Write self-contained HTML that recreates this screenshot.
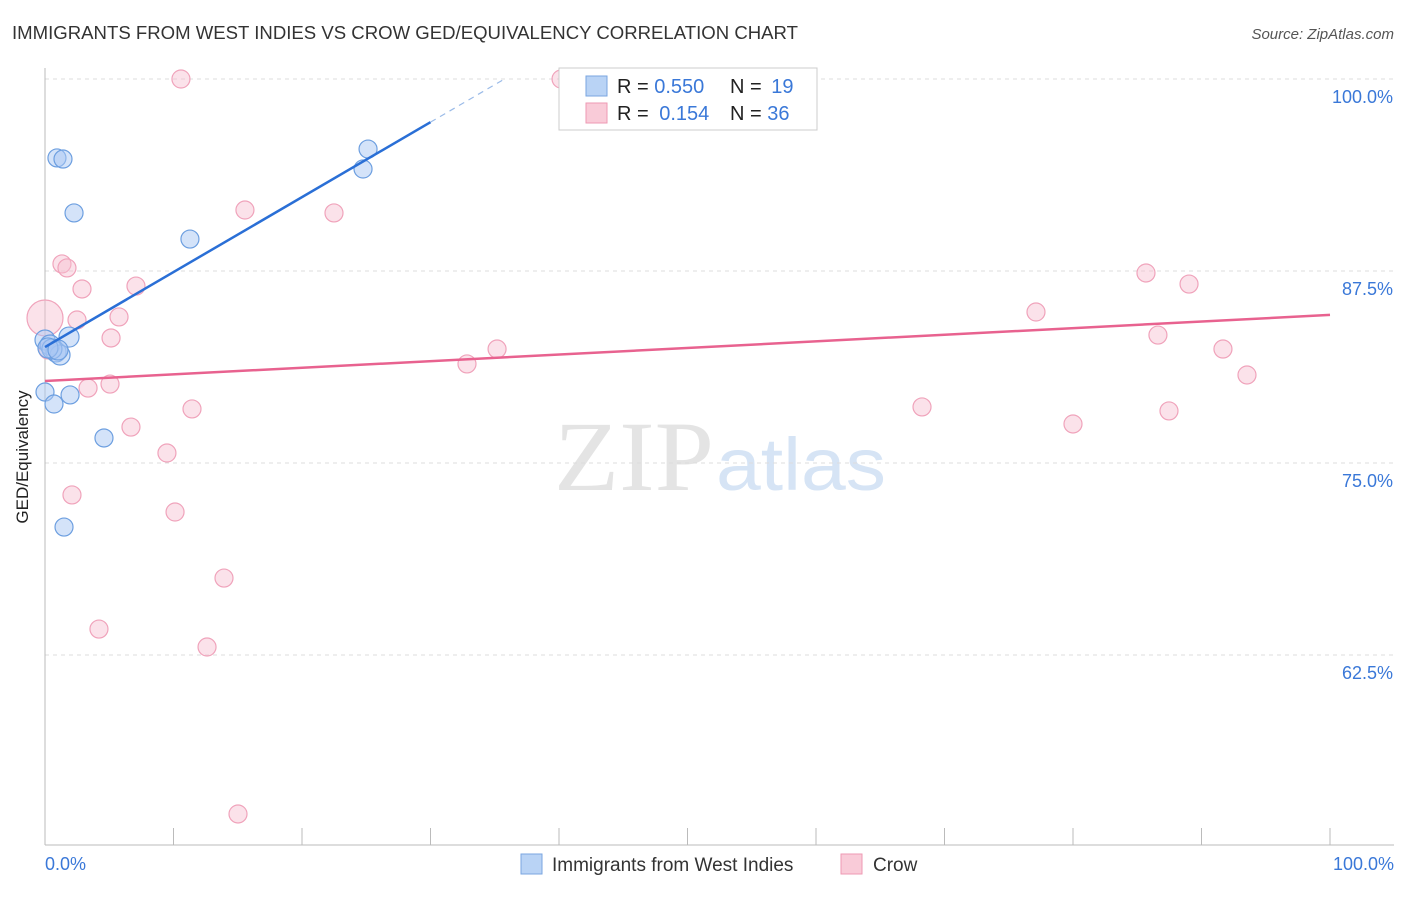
<!DOCTYPE html>
<html><head><meta charset="utf-8"><style>
body{margin:0;background:#fff;font-family:"Liberation Sans",sans-serif;}
</style></head><body>
<svg width="1406" height="892" xmlns="http://www.w3.org/2000/svg">
<text x="12" y="39" font-size="18" fill="#333" textLength="786" lengthAdjust="spacingAndGlyphs">IMMIGRANTS FROM WEST INDIES VS CROW GED/EQUIVALENCY CORRELATION CHART</text>
<text x="1394" y="39" font-size="15" fill="#555" font-style="italic" text-anchor="end">Source: ZipAtlas.com</text>
<text x="714" y="490" font-size="100" fill="#e4e4e4" text-anchor="end" font-family="Liberation Serif" textLength="160" lengthAdjust="spacingAndGlyphs">ZIP</text>
<text x="716" y="490" font-size="74" fill="#d6e4f5" textLength="170" lengthAdjust="spacingAndGlyphs">atlas</text>
<g id="grid"></g>
<line x1="45" y1="68" x2="45" y2="845" stroke="#bbb"/>
<line x1="45" y1="845" x2="1394" y2="845" stroke="#bbb"/>
<text x="28" y="457" font-size="17" fill="#222" text-anchor="middle" transform="rotate(-90 28 457)">GED/Equivalency</text>
<text x="45" y="870" font-size="18" fill="#3a78d8">0.0%</text>
<text x="1394" y="870" font-size="18" fill="#3a78d8" text-anchor="end">100.0%</text>
<g id="marks"></g>
<g>
<rect x="559" y="68" width="258" height="62" fill="#fff" stroke="#ccc"/>
<rect x="586" y="76" width="21" height="20" fill="#b9d3f5" stroke="#7aa6e0"/>
<rect x="586" y="103" width="21" height="20" fill="#f9cbd8" stroke="#ee9ab3"/>
<text x="617" y="93" font-size="20" fill="#222">R = <tspan fill="#3a78d8">0.550</tspan></text>
<text x="730" y="93" font-size="20" fill="#222">N = <tspan fill="#3a78d8" dx="4">19</tspan></text>
<text x="617" y="120" font-size="20" fill="#222">R = <tspan fill="#3a78d8" dx="5">0.154</tspan></text>
<text x="730" y="120" font-size="20" fill="#222">N = <tspan fill="#3a78d8">36</tspan></text>
</g>
<g>
<rect x="521" y="854" width="21" height="20" fill="#b9d3f5" stroke="#7aa6e0"/>
<text x="552" y="871" font-size="19" fill="#333">Immigrants from West Indies</text>
<rect x="841" y="854" width="21" height="20" fill="#f9cbd8" stroke="#ee9ab3"/>
<text x="873" y="871" font-size="19" fill="#333">Crow</text>
</g>
</svg>
<script>
const yTicks=[100,87.5,75,62.5];
const yTickLabels=["100.0%","87.5%","75.0%","62.5%"];
const xTicks=[0,10,20,30,40,50,60,70,80,90,100];
const blueX=[0.93,1.40,2.26,11.28,25.14,24.75,0,0.39,0.86,1.17,0.54,1.87,0,0.70,1.95,4.59,1.48,0.23,1.01];
const blueY=[94.86,94.79,91.28,89.58,95.44,94.14,83.01,82.68,82.23,82.03,82.42,83.20,79.62,78.84,79.43,76.63,70.83,82.49,82.36];
const pinkX=[10.58,40.16,56.42,15.56,22.49,1.32,1.71,2.88,7.08,0,2.49,5.76,5.14,3.35,5.06,6.69,11.44,9.49,2.10,10.12,13.93,4.20,12.61,15.02,32.84,35.18,68.25,77.12,80.0,85.68,89.03,86.61,87.47,91.67,93.54,0.23];
const pinkY=[100,100,100,91.47,91.28,87.96,87.70,86.33,86.52,84.44,84.31,84.51,83.14,79.88,80.14,77.34,78.52,75.65,72.92,71.81,67.51,64.19,63.02,52.15,81.45,82.42,78.65,84.83,77.54,87.37,86.65,83.33,78.39,82.42,80.73,82.36];
const blueTrend=[82.55,0.488];
const pinkTrend=[80.34,0.043];
const NS="http://www.w3.org/2000/svg";
const sx=v=>45+v*12.85, sy=v=>79+(100-v)*15.36;
const grid=document.getElementById('grid'), marks=document.getElementById('marks');
function mk(tag,attrs,parent){const e=document.createElementNS(NS,tag);for(const k in attrs)e.setAttribute(k,attrs[k]);parent.appendChild(e);return e;}
yTicks.forEach((t,i)=>{
 const l=mk('line',{x1:45,x2:1394,y1:sy(t),y2:sy(t),stroke:'#ddd','stroke-dasharray':'4,4'},grid);
 
 
 const tx=mk('text',{x:1393,y:sy(t)+24,'font-size':18,fill:'#3a78d8','text-anchor':'end'},grid);
 tx.textContent=yTickLabels[i];
 
 
});
xTicks.forEach(t=>{
 const l=mk('line',{x1:sx(t),x2:sx(t),y1:828,y2:845,stroke:'#bbb'},grid);
 
 
});
function pts(X,Y,fill,stroke,name){X.forEach((x,i)=>{
 const r=(name==='pink-point'&&x===0)?18:(name==='blue-point'&&x<2&&Y[i]>81&&Y[i]<84?10:9);
 const c=mk('circle',{cx:sx(x),cy:sy(Y[i]),r:r,fill:fill,stroke:stroke,'stroke-width':1.2},marks);
 
 
});}
pts(pinkX,pinkY,'rgba(247,190,208,0.45)','#f0a3bb','pink-point');
pts(blueX,blueY,'rgba(170,200,243,0.5)','#6d9fe0','blue-point');
let l=mk('line',{x1:sx(0),y1:sy(pinkTrend[0]),x2:sx(100),y2:sy(pinkTrend[0]+100*pinkTrend[1]),stroke:'#e8628f','stroke-width':2.5},marks);


l=mk('line',{x1:sx(0),y1:sy(blueTrend[0]),x2:sx(30),y2:sy(blueTrend[0]+30*blueTrend[1]),stroke:'#2a6fd6','stroke-width':2.5},marks);


const xe=(100-blueTrend[0])/blueTrend[1];
l=mk('line',{x1:sx(30),y1:sy(blueTrend[0]+30*blueTrend[1]),x2:sx(xe),y2:sy(100),stroke:'#9bbbe8','stroke-width':1.2,'stroke-dasharray':'6,5'},marks);


</script>
</body></html>
